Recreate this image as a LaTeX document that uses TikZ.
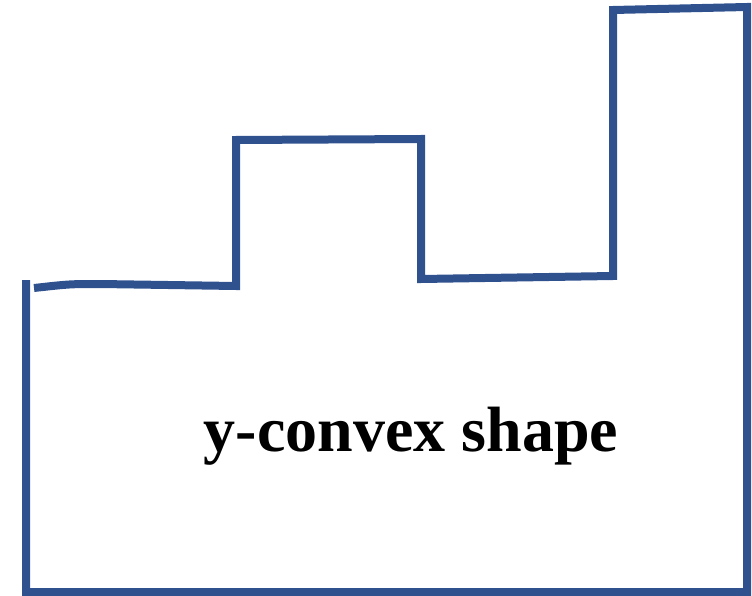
\documentclass[tikz,border=0pt]{standalone}
\usepackage{fontspec}
\setmainfont{Liberation Serif}
\usepackage{tikz}
\usetikzlibrary{positioning}
\definecolor{shapeblue}{RGB}{47,82,143}
\tikzset{
    outline/.style={
        draw=shapeblue,
        line width=8pt,
        line join=miter
    },
    caption/.style={
        inner sep=0pt,
        anchor=base,
        font=\fontsize{64}{72}\selectfont\bfseries
    }
}

\begin{document}
\begin{tikzpicture}[x=1pt,y=-1pt]
        \useasboundingbox (0,0) rectangle (752,596);
        % outer outline, open at the upper left
        \draw[outline] (26,280) -- (26,592) -- (747,592) -- (747,7)
            -- (613,10) -- (613,276) -- (421,279) -- (421,139)
            -- (236,140) -- (236,286) -- (100,284)
            .. controls (70,284) .. (34,288);
        \node[caption] (label) at (411,451) {y-convex shape};
    \end{tikzpicture}
\end{document}
